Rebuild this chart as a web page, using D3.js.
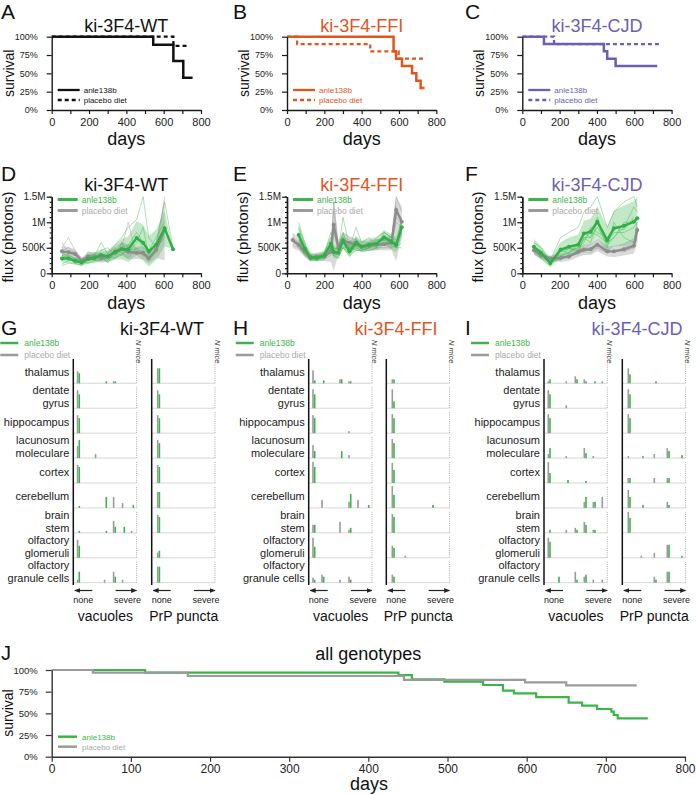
<!DOCTYPE html>
<html><head><meta charset="utf-8">
<script src="https://cdn.jsdelivr.net/npm/d3@7"></script>
<style>body{margin:0;background:#fff}svg{display:block}</style>
</head><body><svg id="c" width="696" height="795"></svg>
<script>
// ================= DATA =================
const genotypes = ["ki-3F4-WT", "ki-3F4-FFI", "ki-3F4-CJD"];
const groupNames = ["anle138b", "placebo diet"];
const surv = "survival", fluxLabel = "flux (photons)", daysLabel = "days";

// --- A-C survival (day, % surviving) ---
const survWT_anleT = [0, 544, 652, 705, 755], survWT_anleS = [100, 89, 67, 44, 44];
const survWT_plcT = [0, 652, 732], survWT_plcS = [100, 87.5, 87.5];
const survFFI_anleT = [0, 571, 584, 616, 670, 693, 716, 737], survFFI_anleS = [100, 80, 70, 60, 50, 40, 30, 30];
const survFFI_plcT = [0, 54, 446, 598, 737], survFFI_plcS = [100, 90, 80, 70, 70];
const survCJD_anleT = [0, 116, 437, 455, 500, 723], survCJD_anleS = [100, 90, 80, 70, 60, 60];
const survCJD_plcT = [0, 170, 732], survCJD_plcS = [100, 90, 90];
const survTicks = [0, 25, 50, 75, 100];
const dayTicks = [0, 100, 200, 300, 400, 500, 600, 700, 800];

// --- D-F flux (K photons) ---
const fluxWT_days = [55, 90, 125, 160, 195, 230, 265, 300, 340, 375, 410, 455, 490, 520, 560, 605, 650];
const fluxWT_anleMean = [290, 290, 245, 210, 280, 300, 360, 330, 420, 470, 470, 690, 600, 430, 560, 880, 470];
const fluxWT_anleSD = [80, 90, 70, 60, 90, 100, 110, 120, 150, 200, 250, 330, 350, 300, 300, 350, 0];
const fluxWT_plcMean = [430, 410, 380, 250, 330, 330, 300, 330, 400, 480, 420, 400, 400, 290, 460, 850, null];
const fluxWT_plcSD = [100, 110, 90, 60, 80, 90, 100, 100, 120, 130, 150, 120, 130, 100, 160, 600, null];
const fluxWT_anleMice = [
  [180, 250, 300, 200, 420, 350, 600, 380, 560, 700, 900, 1050, 1500, 700, 500, null, null],
  [350, 300, 200, 150, 250, 380, 300, 250, 400, 350, 550, 800, 600, 450, 700, 1000, null],
  [250, 350, 280, 250, 200, 300, 450, 500, 350, 600, 400, 600, 900, 350, 600, 1400, 500],
  [150, 200, 180, 180, 300, 250, 280, 300, 480, 400, 300, 500, 400, 300, 500, 700, null],
  [400, 320, 250, 230, 350, 280, 350, 200, 450, 500, 550, 700, 500, 400, null, null, null],
  [300, 280, 220, 210, 200, 240, 250, 350, 300, 380, 450, 480, 350, 380, 550, 750, null]];
const fluxWT_plcMice = [
  [450, 500, 400, 280, 350, 300, 250, 300, 350, 550, 450, 400, 350, 250, 400, 1500, null],
  [600, 400, 350, 220, 300, 400, 350, 380, 500, 450, 380, 420, 450, 300, 500, 700, null],
  [350, 450, 420, 300, 280, 280, 250, 350, 380, 600, 500, 380, 400, 320, 450, null, null],
  [400, 350, 300, 200, 380, 350, 320, 280, 420, 400, 350, 450, 380, 250, 480, 900, null],
  [500, 700, 450, 250, 300, 300, 400, 300, 300, 500, 1000, 350, 420, 300, null, null, null],
  [300, 380, 380, 250, 350, 330, 280, 350, 450, 480, 420, 400, 400, 280, 500, 800, null]];

const fluxFFI_days = [30, 62, 95, 125, 160, 200, 235, 250, 275, 300, 335, 370, 400, 440, 480, 520, 560, 585, 615];
const fluxFFI_anleMean = [null, 750, 480, 320, 300, 350, 580, 420, 400, 640, 430, 600, 520, 560, 580, 700, 620, 560, 900];
const fluxFFI_anleSD = [null, 200, 150, 80, 70, 100, 150, 120, 120, 150, 120, 130, 120, 120, 130, 150, 150, 150, 200];
const fluxFFI_plcMean = [650, 560, 420, 300, 330, 330, 420, 950, 500, 640, 600, 560, 520, 540, 560, 570, 600, 1240, 1010];
const fluxFFI_plcSD = [150, 120, 100, 70, 80, 90, 200, 900, 150, 150, 120, 110, 100, 100, 110, 120, 150, 1000, 300];
const fluxFFI_anleMice = [
  [null, 1000, 600, 300, 250, 400, 800, 500, 450, 1100, 500, 900, 600, 700, 500, 800, 700, 600, 1000],
  [null, 600, 400, 350, 300, 300, 500, 400, 350, 500, 400, 500, 450, 500, 650, 650, 550, 500, 800],
  [null, 800, 500, 250, 350, 350, 600, 380, 400, 700, 450, 650, 550, 600, 600, 750, 650, 500, 600],
  [null, 500, 350, 300, 280, 320, 450, 350, 300, 500, 350, 450, 450, 500, 550, 600, 500, 550, 1100],
  [null, 900, 550, 380, 320, 400, 700, 450, 500, 800, 480, 700, 500, 500, 700, 800, 700, 650, null],
  [null, 650, 450, 280, 250, 300, 500, 350, 380, 600, 380, 550, 480, 450, 500, 650, 600, 500, 500]];
const fluxFFI_plcMice = [
  [700, 600, 500, 350, 380, 350, 400, 1400, 500, 800, 700, 650, 600, 600, 650, 700, 700, 1500, 1200],
  [550, 500, 400, 280, 300, 300, 450, 500, 450, 600, 550, 500, 500, 500, 500, 500, 550, 1000, 900],
  [700, 600, 380, 300, 350, 380, 500, 1000, 550, 700, 650, 600, 520, 550, 600, 600, 650, 1200, null],
  [600, 550, 420, 250, 300, 280, 350, 800, 450, 500, 500, 450, 450, 500, 500, 500, 500, 1100, 950],
  [650, 500, 400, 320, 320, 350, 400, 1200, 550, 650, 600, 600, 550, 550, 550, 550, 600, 1400, null]];

const fluxCJD_days = [62, 100, 150, 205, 250, 300, 330, 366, 402, 455, 491, 545, 598, 616];
const fluxCJD_anleMean = [520, 400, 200, 460, 520, 560, 780, 815, 1010, 650, 880, 930, 1010, 1080];
const fluxCJD_anleSD = [150, 130, 80, 150, 180, 200, 250, 250, 300, 250, 350, 400, 400, 450];
const fluxCJD_plcMean = [450, 350, 290, 300, 330, 420, 460, 470, 560, 430, 430, 470, 540, 850];
const fluxCJD_plcSD = [80, 70, 60, 80, 90, 100, 100, 110, 130, 100, 110, 120, 150, 250];
const fluxCJD_anleMice = [
  [600, 500, 250, 700, 800, 900, 1200, 1300, 1500, 900, 1200, 1400, 1500, 1300],
  [450, 350, 180, 400, 500, 450, 700, 700, 900, 600, 800, 800, 900, 1000],
  [500, 450, 220, 350, 400, 600, 800, 700, 1100, 550, 700, 1000, 1000, 1100],
  [550, 300, 150, 500, 450, 500, 600, 900, 800, 700, 900, 850, 1100, null],
  [480, 420, 200, 300, 500, 400, 700, 600, 1000, 500, 1000, 700, 600, 900],
  [520, 380, 220, 450, 400, 550, 650, 800, 750, 600, 700, 900, 1300, 1200]];
const fluxCJD_plcMice = [
  [500, 400, 300, 350, 300, 450, 500, 500, 600, 450, 400, 500, 600, 900],
  [400, 300, 250, 280, 350, 400, 450, 450, 500, 400, 450, 450, 500, 800],
  [450, 350, 320, 300, 300, 450, 500, 550, 650, 480, 400, 500, 550, 1000],
  [420, 380, 280, 250, 380, 380, 420, 400, 500, 400, 450, 420, 500, null],
  [480, 330, 300, 320, 320, 420, 480, 450, 550, 420, 430, 480, 560, 700]];
const fluxTicks = [0, 500, 1000, 1500];

// --- G-I lesion scores: mice per score category ---
const regions = ["thalamus", "dentate gyrus", "hippocampus", "lacunosum moleculare", "cortex",
  "cerebellum", "brain stem", "olfactory glomeruli", "olfactory granule cells"];
const vacLabel = "vacuoles", prpLabel = "PrP puncta", noneLabel = "none", severeLabel = "severe", nMiceLabel = "N mice";

const vacWT_plc = [[6,0,0,0,1,0,0],[9,0,0,0,0,0,0],[9,0,0,0,0,0,0],[6,0,2,0,0,0,0],[9,0,0,0,0,0,0],
  [0,0,0,0,5.5,2.5,0],[0,0,0,0,6,0,1],[9,0,0,0,0,0,0],[1.5,0,0,1.5,5.5,1.5,0]];
const vacWT_anle = [[5,0,0,1,1,0,0],[7,0,0,0,0,0,0],[7.5,0,0,0,0,0,0],[9,0,0,0,0,0,0],[8,0,0,0,0,0,0],
  [1,0,0,5.5,0,0,1.5],[1,0,0,1,3,3,0],[6,0,0,0,0,0,0],[5.5,0,0,0,3,0,0]];
const prpWT_plc = [[7.5,0,0,0,0],[9,0,0,0,0],[9,0,0,0,0],[9,0,0,0,0],[9,0,0,0,0],[8,0,0,0,0],[9,0,0,0,0],[2.5,0,0,0,0],[8,0,0,0,0]];
const prpWT_anle = [[7.5,0,0,0,0],[7,0,0,0,0],[7.5,0,0,0,0],[7.5,0,0,0,0],[8,0,0,0,0],[8,0,0,0,0],[8,0,0,0,0],[3.5,0,0,0,0],[8,0,0,0,0]];

const vacFFI_plc = [[6.5,0,0,2,1,0,0],[9.5,0,0,0,0,0,0],[9,0,0,0,1,0,0],[6.5,0,0,0,1.5,0,0],[10.5,0,0,0,0,0,0],
  [0,4,0,0,3,4,0],[4,0,0,5.5,1.5,0,0],[10,0,0,0,0,0,0],[2.5,4,0,1.5,3,0,0]];
const vacFFI_anle = [[1.5,1.5,0,2,1,0,0],[7,0,0,0,0,0,0],[7.5,0,0,0,0,0,0],[3.5,0,0,3.5,0,0,0],[8,0,0,0,0,0,0],
  [0,0,0,0,7,0,1.5],[4,0,0,0,2.5,0,0],[5.5,0,0,0,0,0,0],[1.5,3,0,0,1.5,0,0]];
const prpFFI_plc = [[2,0,0,0,0],[9.5,0,0,0,0],[9.5,0,0,0,0],[9.5,0,0,0,0],[10,0,0,0,0],[11,0,0,0,0],[9.5,0,0,0,0],[6,1,0,0,0],[4,0,0,0,0]];
const prpFFI_anle = [[2,0,0,0,0],[3.5,0,0,0,0],[7.5,0,0,0,0],[7.5,0,0,0,0],[6.5,0,0,0,0],[6.5,0,0,1.5,0],[8,0,0,0,0],[5,0,0,0,0],[3,0,0,0,0]];

const vacCJD_plc = [[1,0,1,3.5,2,0,1],[9,0,1.5,0,0,0,0],[9.5,0,0,0,0,0,0],[2,0,1,0,5,1,0],[10.5,0,0,0,0,0,0],
  [0,0,0,0,3,3,5.5],[0,0,1.5,2.5,5.5,1.5,0],[10,0,0,0,0,0,0],[0,0,0,5.5,3,1.5,1.5]];
const vacCJD_anle = [[2,0,0,2,1,1,0],[7,0,0,0,0,0,0],[7.5,0,0,0,0,0,0],[5,0,0,0,2.5,0,0],[5,0,1.5,0,1,0,0],
  [0,0,0,0,5.5,3,0],[1.5,0,0,1.5,4,1.5,0],[8,0,0,0,0,0,0],[0,3,0,1.5,4,0,0]];
const prpCJD_plc = [[7.5,0,0,0,0],[9.5,0,0,0,0],[9.5,0,0,0,0],[1,0,2,5,0],[2.5,0,2.5,2.5,0],[9,0,0,3,0],[10.5,0,0,0,0],[0,1,2.5,6.5,0],[0,0,3,5.5,0]];
const prpCJD_anle = [[4.5,0,1,0,0],[7,0,0,0,0],[7.5,0,0,0,0],[0,1,0,3.5,1.5],[2.5,0,0,2.5,0],[5.5,1.5,0,1.5,0],[7.5,0,0,0,0],[0,0,0,6.5,1],[0,0,1.5,5.5,0]];

// --- J all genotypes survival ---
const allTitle = "all genotypes";
const allAnleT = [0, 118, 438, 455, 496, 545, 570, 584, 612, 653, 670, 689, 707, 710, 715, 753];
const allAnleS = [100, 96.9, 94.2, 89.2, 86.5, 82.7, 76.2, 73.1, 68.8, 62.3, 58.8, 55, 51.9, 48.1, 44.2, 44.2];
const allPlcT = [0, 52, 172, 445, 598, 650, 739];
const allPlcS = [100, 96.9, 93.1, 88.5, 85.8, 82.3, 82.3];

// ================= DRAWING =================
const FONT = '"Liberation Sans", Arial, Helvetica, sans-serif';
const GREEN = '#3bb54a', GRAY = '#9b9b9b', GREEN_BAND = 'rgba(70,185,85,0.33)', GRAY_BAND = 'rgba(150,150,150,0.35)';
const COLS = ['#111111', '#e0561e', '#6a5fb5'];
const svg = d3.select('#c').attr('font-family', FONT);
svg.append('rect').attr('width', 696).attr('height', 795).attr('fill', '#fff');
const defs = svg.append('defs');
defs.append('marker').attr('id', 'arr').attr('viewBox', '0 0 10 10').attr('refX', 9).attr('refY', 5)
  .attr('markerWidth', 5).attr('markerHeight', 5).attr('orient', 'auto')
  .append('path').attr('d', 'M0,1L10,5L0,9z').attr('fill', '#222');

function txt(x, y, s, o = {}) {
  const t = svg.append('text').attr('x', x).attr('y', y).text(s)
    .attr('font-size', o.size || 10).attr('fill', o.fill || '#111').attr('text-anchor', o.anchor || 'start');
  if (o.style) t.attr('font-style', o.style);
  if (o.rotate != null) t.attr('transform', `rotate(${o.rotate},${x},${y})`);
  return t;
}
function styleAxis(g, fs, col = '#1a1a1a') {
  g.attr('font-family', FONT).attr('font-size', fs);
  g.select('.domain').attr('stroke', col).attr('stroke-width', 1.4);
  g.selectAll('.tick line').attr('stroke', col).attr('stroke-width', 1.2);
  g.selectAll('.tick text').attr('fill', '#222');
}
const letters = ['A','B','C','D','E','F','G','H','I','J'];
const OX = [0, 232, 464];
const AX0 = [51.7, 287, 522.3];
const PW = 149.3;

// ---------- A-C ----------
const survData = [
  [survWT_anleT, survWT_anleS, survWT_plcT, survWT_plcS],
  [survFFI_anleT, survFFI_anleS, survFFI_plcT, survFFI_plcS],
  [survCJD_anleT, survCJD_anleS, survCJD_plcT, survCJD_plcS]];
survData.forEach((sd, k) => {
  const x0 = AX0[k], col = COLS[k];
  const x = d3.scaleLinear().domain([0, 800]).range([x0, x0 + PW]);
  const y = d3.scaleLinear().domain([0, 100]).range([110, 36.7]);
  txt(OX[k] + 1, 18.5, letters[k], { size: 21 });
  txt(x0 + PW / 2, 31.7, genotypes[k], { size: 18, fill: col, anchor: 'middle' });
  const line = d3.line().x(d => x(d[0])).y(d => y(d[1])).curve(d3.curveStepAfter);
  svg.append('path').datum(d3.zip(sd[2], sd[3])).attr('d', line).attr('fill', 'none')
    .attr('stroke', col).attr('stroke-width', 2.3).attr('stroke-dasharray', '4,3');
  svg.append('path').datum(d3.zip(sd[0], sd[1])).attr('d', line).attr('fill', 'none')
    .attr('stroke', col).attr('stroke-width', 2.5);
  const gx = svg.append('g').attr('transform', 'translate(0,110)')
    .call(d3.axisBottom(x).tickValues(dayTicks).tickFormat(d => d % 200 === 0 ? d : '').tickSize(4).tickSizeOuter(0).tickPadding(4));
  styleAxis(gx, 11);
  const gy = svg.append('g').attr('transform', `translate(${x0},0)`)
    .call(d3.axisLeft(y).tickValues(survTicks).tickFormat(d => d + '%').tickSize(5).tickSizeOuter(0).tickPadding(9));
  styleAxis(gy, 9);
  txt(x0 - 38, 73.3, surv, { size: 14, anchor: 'middle', rotate: -90 });
  txt(x0 + PW / 2, 144.5, daysLabel, { size: 18, anchor: 'middle' });
  // legend
  [[90, null], [100, '4,3']].forEach(([ly, da], i) => {
    const l = svg.append('line').attr('x1', x0 + 6).attr('x2', x0 + 28).attr('y1', ly).attr('y2', ly)
      .attr('stroke', col).attr('stroke-width', 2.3);
    if (da) l.attr('stroke-dasharray', da);
    txt(x0 + 32, ly + 3, groupNames[i], { size: 8, fill: col });
  });
});

// ---------- D-F ----------
const fluxData = [
  [fluxWT_days, fluxWT_anleMean, fluxWT_anleSD, fluxWT_plcMean, fluxWT_plcSD, fluxWT_anleMice, fluxWT_plcMice],
  [fluxFFI_days, fluxFFI_anleMean, fluxFFI_anleSD, fluxFFI_plcMean, fluxFFI_plcSD, fluxFFI_anleMice, fluxFFI_plcMice],
  [fluxCJD_days, fluxCJD_anleMean, fluxCJD_anleSD, fluxCJD_plcMean, fluxCJD_plcSD, fluxCJD_anleMice, fluxCJD_plcMice]];
fluxData.forEach((fd, k) => {
  const x0 = AX0[k], col = COLS[k];
  const [days, aM, aS, pM, pS, aMice, pMice] = fd;
  const x = d3.scaleLinear().domain([0, 800]).range([x0, x0 + PW]);
  const y = d3.scaleLinear().domain([0, 1500]).range([273.3, 196.7]);
  txt(OX[k] + 1, 181, letters[3 + k], { size: 21 });
  txt(x0 + PW / 2, 190.5, genotypes[k], { size: 18, fill: col, anchor: 'middle' });
  const cid = 'clip' + k;
  defs.append('clipPath').attr('id', cid).append('rect').attr('x', x0).attr('y', 195.5).attr('width', PW).attr('height', 78);
  const g = svg.append('g').attr('clip-path', `url(#${cid})`);
  const band = (m, s) => days.map((d, i) => ({ d, m: m[i], s: s[i] }));
  const area = d3.area().defined(p => p.m != null).x(p => x(p.d))
    .y0(p => y(Math.max(0, p.m - p.s))).y1(p => y(Math.min(1500, p.m + p.s)));
  g.append('path').datum(band(pM, pS)).attr('d', area).attr('fill', GRAY_BAND);
  g.append('path').datum(band(aM, aS)).attr('d', area).attr('fill', GREEN_BAND);
  const ln = d3.line().defined(p => p[1] != null).x(p => x(p[0])).y(p => y(p[1]));
  pMice.forEach(m => g.append('path').datum(d3.zip(days, m)).attr('d', ln).attr('fill', 'none')
    .attr('stroke', '#a9a9a9').attr('stroke-opacity', 0.75).attr('stroke-width', 0.7));
  aMice.forEach(m => g.append('path').datum(d3.zip(days, m)).attr('d', ln).attr('fill', 'none')
    .attr('stroke', GREEN).attr('stroke-opacity', 0.6).attr('stroke-width', 0.7));
  [[pM, '#8d8d8d'], [aM, '#2fb046']].forEach(([m, c]) => {
    const pts = d3.zip(days, m).filter(p => p[1] != null);
    g.append('path').datum(pts).attr('d', ln).attr('fill', 'none').attr('stroke', c).attr('stroke-width', 2.4);
    g.selectAll(null).data(pts).enter().append('circle').attr('cx', p => x(p[0])).attr('cy', p => y(p[1]))
      .attr('r', 2).attr('fill', c);
  });
  const gx = svg.append('g').attr('transform', 'translate(0,273.3)')
    .call(d3.axisBottom(x).tickValues(dayTicks).tickFormat(d => d % 200 === 0 ? d : '').tickSize(4).tickSizeOuter(0).tickPadding(4));
  styleAxis(gx, 11);
  const gm = svg.append('g').attr('transform', `translate(${x0},0)`)
    .call(d3.axisLeft(y).tickValues(d3.range(0, 1501, 100)).tickFormat('').tickSize(2).tickSizeOuter(0));
  styleAxis(gm, 10);
  const gy = svg.append('g').attr('transform', `translate(${x0},0)`)
    .call(d3.axisLeft(y).tickValues(fluxTicks).tickFormat(d => d === 0 ? '0' : d >= 1000 ? (d / 1000) + 'M' : d + 'K').tickSize(5).tickSizeOuter(0).tickPadding(1));
  styleAxis(gy, 10);
  txt(x0 - 39, 237, fluxLabel, { size: 15, anchor: 'middle', rotate: -90 });
  txt(x0 + PW / 2, 308.5, daysLabel, { size: 18, anchor: 'middle' });
  [[199.5, GREEN], [210.5, GRAY]].forEach(([ly, c], i) => {
    svg.append('line').attr('x1', x0 + 6).attr('x2', x0 + 26).attr('y1', ly).attr('y2', ly).attr('stroke', c).attr('stroke-width', 3);
    txt(x0 + 30, ly + 3, groupNames[i], { size: 8.5, fill: i ? '#aaa' : GREEN });
  });
});

// ---------- G-I ----------
const lesionData = [
  [vacWT_plc, vacWT_anle, prpWT_plc, prpWT_anle],
  [vacFFI_plc, vacFFI_anle, prpFFI_plc, prpFFI_anle],
  [vacCJD_plc, vacCJD_anle, prpCJD_plc, prpCJD_anle]];
const VACX = [73.3, 308.7, 544], PRPX = [151.7, 386.3, 622.3], TITLEX = [162, 396, 637];
const SUBW = 63.3;
const yb = d3.scaleBand().domain(regions).range([358.4, 582.7]).paddingInner(0);
const hs = d3.scaleLinear().domain([0, 10.5]).range([0, 21]);
lesionData.forEach((ld, k) => {
  const vx = VACX[k], px = PRPX[k];
  txt(OX[k] + 1, 335, letters[6 + k], { size: 21 });
  txt(TITLEX[k], 335, genotypes[k], { size: 18, fill: COLS[k], anchor: 'middle' });
  const lx = vx - 73;
  [[343, GREEN], [355, GRAY]].forEach(([ly, c], i) => {
    svg.append('line').attr('x1', lx).attr('x2', lx + 18).attr('y1', ly).attr('y2', ly).attr('stroke', c).attr('stroke-width', 2.5);
    txt(lx + 24, ly + 3, groupNames[i], { size: 8.5, fill: i ? '#aaa' : GREEN });
  });
  regions.forEach(r => {
    const base = yb(r) + yb.bandwidth();
    const parts = r === 'hippocampus' || r === 'thalamus' || r === 'cortex' || r === 'cerebellum' ? [r] :
      [r.slice(0, r.indexOf(' ')), r.slice(r.indexOf(' ') + 1)];
    if (parts.length === 1) txt(vx - 4, base - 7.5, parts[0], { size: 11, anchor: 'end', fill: '#222' });
    else parts.forEach((s, j) => txt(vx - 4, base - 14 + j * 13, s, { size: 11, anchor: 'end', fill: '#222' }));
  });
  [[vx, ld[0], ld[1], 6, 4.3, 58.3, vacLabel], [px, ld[2], ld[3], 4, 6, 58, prpLabel]].forEach(([ax, plc, anle, nc, a, b, lab]) => {
    const xs = d3.scaleLinear().domain([0, nc]).range([ax + a, ax + b]);
    regions.forEach((r, i) => {
      const base = yb(r) + yb.bandwidth();
      svg.append('line').attr('x1', ax).attr('x2', ax + SUBW).attr('y1', base).attr('y2', base)
        .attr('stroke', '#cdcdcd').attr('stroke-width', 0.8);
      svg.append('line').attr('x1', ax + SUBW).attr('x2', ax + SUBW).attr('y1', base - 21).attr('y2', base)
        .attr('stroke', '#888').attr('stroke-width', 0.7).attr('stroke-dasharray', '1,1.2');
      plc[i].forEach((v, c) => { if (v > 0) svg.append('rect').attr('x', xs(c) - 0.8).attr('y', base - hs(v)).attr('width', 1.6).attr('height', hs(v)).attr('fill', GRAY); });
      anle[i].forEach((v, c) => { if (v > 0) svg.append('rect').attr('x', xs(c) + 0.9).attr('y', base - hs(v)).attr('width', 1.6).attr('height', hs(v)).attr('fill', GREEN); });
    });
    svg.append('line').attr('x1', ax).attr('x2', ax).attr('y1', 359).attr('y2', 585).attr('stroke', '#111').attr('stroke-width', 1.5);
    svg.append('text').attr('transform', `translate(${ax + SUBW - 0.5},340) rotate(90)`).text(nMiceLabel)
      .attr('font-size', 7.5).attr('font-style', 'italic').attr('fill', '#333');
    svg.append('line').attr('x1', ax + 19).attr('x2', ax + 1.5).attr('y1', 590.5).attr('y2', 590.5)
      .attr('stroke', '#222').attr('stroke-width', 1.2).attr('marker-end', 'url(#arr)');
    svg.append('line').attr('x1', ax + SUBW - 21).attr('x2', ax + SUBW).attr('y1', 590.5).attr('y2', 590.5)
      .attr('stroke', '#222').attr('stroke-width', 1.2).attr('marker-end', 'url(#arr)');
    txt(ax + 10, 603, noneLabel, { size: 9, anchor: 'middle', fill: '#222' });
    txt(ax + SUBW - 9, 603, severeLabel, { size: 9, anchor: 'middle', fill: '#222' });
    txt(ax + 32, 621, lab, { size: 14, anchor: 'middle' });
  });
});

// ---------- J ----------
{
  const x = d3.scaleLinear().domain([0, 800]).range([51.7, 685]);
  const y = d3.scaleLinear().domain([0, 100]).range([756.7, 670]);
  txt(1, 660, letters[9], { size: 20 });
  txt(368.3, 660, allTitle, { size: 18, anchor: 'middle' });
  const line = d3.line().x(d => x(d[0])).y(d => y(d[1])).curve(d3.curveStepAfter);
  svg.append('path').datum(d3.zip(allAnleT, allAnleS)).attr('d', line).attr('fill', 'none').attr('stroke', GREEN).attr('stroke-width', 2.2);
  svg.append('path').datum(d3.zip(allPlcT, allPlcS)).attr('d', line).attr('fill', 'none').attr('stroke', GRAY).attr('stroke-width', 2.2);
  const gx = svg.append('g').attr('transform', 'translate(0,756.7)')
    .call(d3.axisBottom(x).tickValues(dayTicks).tickSize(5).tickSizeOuter(0).tickPadding(3));
  styleAxis(gx, 12, '#333');
  const gy = svg.append('g').attr('transform', 'translate(51.7,0)')
    .call(d3.axisLeft(y).tickValues(survTicks).tickFormat(d => d + '%').tickSize(6).tickSizeOuter(0).tickPadding(8));
  styleAxis(gy, 9.5, '#333');
  txt(13, 713, surv, { size: 14, anchor: 'middle', rotate: -90 });
  txt(369, 790, daysLabel, { size: 18, anchor: 'middle' });
  [[736.7, GREEN], [746.7, GRAY]].forEach(([ly, c], i) => {
    svg.append('line').attr('x1', 58).attr('x2', 77).attr('y1', ly).attr('y2', ly).attr('stroke', c).attr('stroke-width', 2.5);
    txt(82, ly + 3, groupNames[i], { size: 8, fill: i ? '#aaa' : GREEN });
  });
}
</script></body></html>
